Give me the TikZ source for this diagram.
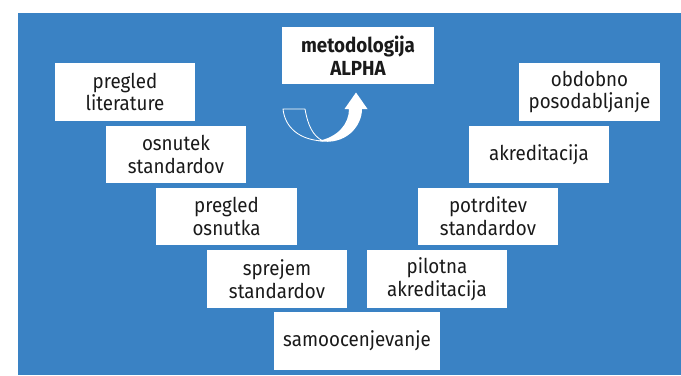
\documentclass[tikz,border=0pt]{standalone}
\usepackage{fontspec}
\setmainfont[FakeStretch=0.92]{Fira Sans}
\usepackage{tikz}
\usetikzlibrary{positioning}
\usepackage{xcolor}
\definecolor{alphablue}{HTML}{3A82C4}
\definecolor{alphatext}{HTML}{1A1A1A}

\begin{document}
\begin{tikzpicture}[
    x=0.025cm, y=-0.025cm,
    stage/.style={fill=white, minimum width=3.5cm, minimum height=1.425cm,
                  inner sep=0pt, align=center, text=alphatext,
                  font=\fontsize{14.5}{16.3}\selectfont},
  ]
    \useasboundingbox (0,0) rectangle (681,375);
    \fill[alphablue] (18,13) rectangle (681,375);

    % left arm, going down
    \node[stage] (lit)  at (125,92)    {pregled\\literature};
    \node[stage] (osn)  at (176,154.5) {osnutek\\standardov};
    \node[stage] (prev) at (226.5,216.5) {pregled\\osnutka};
    \node[stage] (spr)  at (277,279)   {sprejem\\standardov};
    % bottom
    \node[stage, minimum width=4.15cm] (samo) at (357,341) {samoocenjevanje};
    % right arm, going up
    \node[stage] (pilot) at (437,279)   {pilotna\\akreditacija};
    \node[stage] (potr)  at (488,216.5) {potrditev\\standardov};
    \node[stage] (akr)   at (539,154.5) {akreditacija};
    \node[stage] (obd)   at (589.5,92)  {obdobno\\posodabljanje};
    % top
    \node[stage, minimum width=3.8cm, font=\fontsize{14.5}{16.3}\selectfont\bfseries]
      (alpha) at (358,55.5) {metodologija\\ALPHA};

    % turning arrow
    \draw[white, line width=0.6pt, line join=round]
      (283,109) -- (305,109) .. controls (308,126) and (313,136) .. (323,141)
      .. controls (300,140) and (285,128) .. (283,109) -- cycle;
    \fill[white]
      (318,141) .. controls (346,146) and (362,126) .. (362,109)
      -- (367.5,109) -- (356,92.5) -- (344.5,109) -- (349,109)
      .. controls (349,124) and (338,137) .. (318,141) -- cycle;
  \end{tikzpicture}
\end{document}
